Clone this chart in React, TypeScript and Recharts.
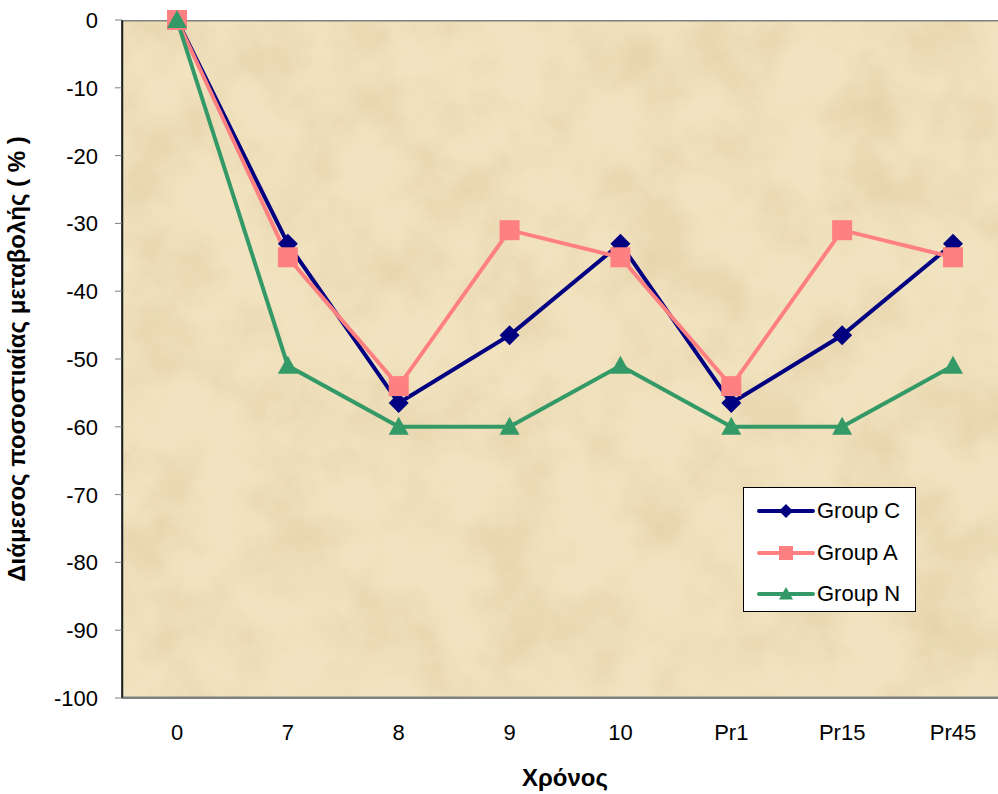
import React from 'react';
import { LineChart, Line, XAxis, YAxis } from 'recharts';

const categories = ['0', '7', '8', '9', '10', 'Pr1', 'Pr15', 'Pr45'];
const groupC = [0, -33, -56.5, -46.5, -33, -56.5, -46.5, -33];
const groupA = [0, -35, -54, -31, -35, -54, -31, -35];
const groupN = [0, -51, -60, -60, -51, -60, -60, -51];
const yTicks = [0, -10, -20, -30, -40, -50, -60, -70, -80, -90, -100];

const series = [
  { key: 'c', name: 'Group C', color: '#000080', shape: 'diamond' },
  { key: 'a', name: 'Group A', color: '#FF8080', shape: 'square' },
  { key: 'n', name: 'Group N', color: '#339966', shape: 'triangle' },
];

const data = categories.map((cat, i) => ({ cat, c: groupC[i], a: groupA[i], n: groupN[i] }));

const FONT = 'Arial, "Liberation Sans", sans-serif';

const Marker = ({ shape, x, y, color, r = 10 }: { shape: string; x: number; y: number; color: string; r?: number }) => {
  if (shape === 'diamond') {
    return <polygon points={`${x},${y - r} ${x + r},${y} ${x},${y + r} ${x - r},${y}`} fill={color} />;
  }
  if (shape === 'square') {
    return <rect x={x - r} y={y - r} width={r * 2} height={r * 2} fill={color} />;
  }
  return <polygon points={`${x},${y - r} ${x + r},${y + r * 0.8} ${x - r},${y + r * 0.8}`} fill={color} />;
};

const makeDot = (shape: string, color: string) => (props: any) => {
  const { cx, cy, index } = props;
  if (cx == null || cy == null) return <g key={index} />;
  return <Marker key={index} shape={shape} x={cx} y={cy} color={color} />;
};

const XTick = (props: any) => {
  const { x, y, payload } = props;
  return (
    <text x={x} y={y + 34} textAnchor="middle" fontFamily={FONT} fontSize={22} fill="#000">
      {payload.value}
    </text>
  );
};

const YTick = (props: any) => {
  const { x, y, payload } = props;
  return (
    <text x={x - 15} y={y + 8} textAnchor="end" fontFamily={FONT} fontSize={22} fill="#000">
      {payload.value}
    </text>
  );
};

const LegendBox = () => (
  <div
    style={{
      position: 'absolute',
      left: 743,
      top: 487,
      width: 171,
      height: 123,
      background: '#fff',
      border: '1px solid #000',
      fontFamily: FONT,
      fontSize: 22,
    }}
  >
    {series.map((s, i) => (
      <div key={s.key} style={{ position: 'absolute', left: 13, top: 10 + i * 41.5, height: 26, display: 'flex', alignItems: 'center' }}>
        <svg width={58} height={26}>
          <line x1={2} y1={13} x2={56} y2={13} stroke={s.color} strokeWidth={4} strokeLinecap="round" />
          <Marker shape={s.shape} x={29} y={13} color={s.color} r={7} />
        </svg>
        <span style={{ marginLeft: 2, color: '#000', lineHeight: '26px' }}>{s.name}</span>
      </div>
    ))}
  </div>
);

export default function App() {
  return (
    <div style={{ position: 'absolute', left: 0, top: 0, width: 998, height: 794, overflow: 'hidden', background: '#fff' }}>
      <svg width={886} height={678} style={{ position: 'absolute', left: 122, top: 20 }}>
        <defs>
          <filter id="paper" x="0" y="0" width="100%" height="100%">
            <feTurbulence type="fractalNoise" baseFrequency="0.014" numOctaves={5} seed={7} />
            <feColorMatrix type="matrix" values="0 0 0 0 0.62  0 0 0 0 0.48  0 0 0 0 0.24  1.6 0 0 0 -0.62" />
          </filter>
        </defs>
        <rect x={0} y={0} width={886} height={678} fill="#F2E3C0" />
        <rect x={0} y={0} width={886} height={678} filter="url(#paper)" opacity={0.45} />
        <rect x={0.5} y={0.5} width={885} height={677} fill="none" stroke="#808080" strokeWidth={2} />
      </svg>
      <div style={{ position: 'absolute', left: 0, top: 0 }}>
        <LineChart width={1012} height={794} data={data} margin={{ top: 20, right: 4, left: 0, bottom: 0 }}>
          <XAxis
            dataKey="cat"
            height={96}
            padding={{ left: 55, right: 55 }}
            tickLine={false}
            axisLine={{ stroke: '#808080', strokeWidth: 2 }}
            tick={<XTick />}
            interval={0}
            label={{ value: 'Χρόνος', position: 'insideBottom', offset: 8, style: { fontFamily: FONT, fontSize: 24, fontWeight: 'bold', fill: '#000' } }}
          />
          <YAxis
            type="number"
            domain={[-100, 0]}
            ticks={yTicks}
            width={122}
            tickSize={7}
            tickLine={{ stroke: '#808080' }}
            axisLine={{ stroke: '#000', strokeWidth: 1.5 }}
            tick={<YTick />}
            interval={0}
            label={{
              value: 'Διάμεσος ποσοστιαίας μεταβολής ( % )',
              angle: -90,
              position: 'insideLeft',
              offset: 16,
              style: { textAnchor: 'middle', fontFamily: FONT, fontSize: 24, fontWeight: 'bold', fill: '#000' },
            }}
          />
          {series.map((s) => (
            <Line
              key={s.key}
              dataKey={s.key}
              name={s.name}
              stroke={s.color}
              strokeWidth={4}
              dot={makeDot(s.shape, s.color)}
              activeDot={false}
              isAnimationActive={false}
            />
          ))}
        </LineChart>
      </div>
      <LegendBox />
    </div>
  );
}
